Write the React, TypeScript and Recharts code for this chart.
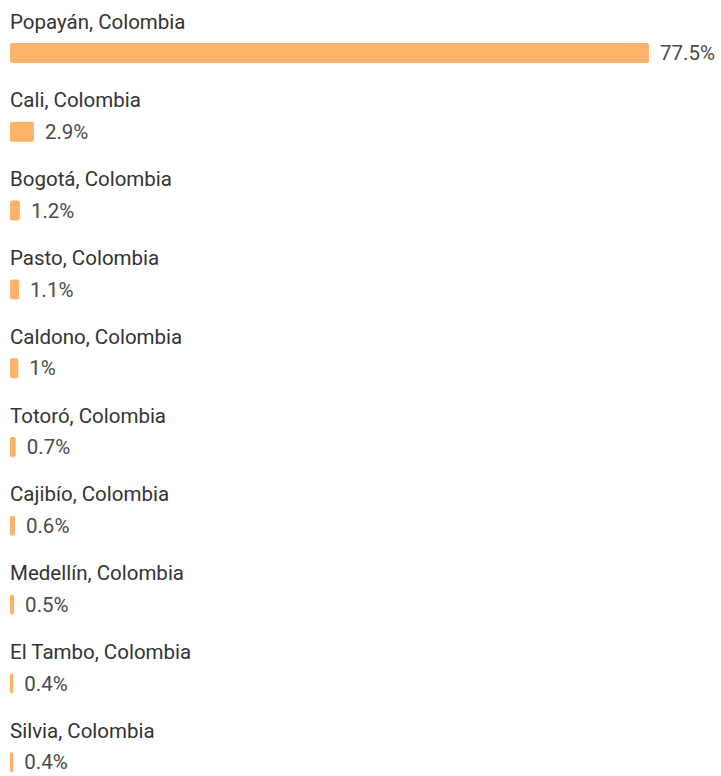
import React from 'react';
import { BarChart, Bar, XAxis, YAxis, LabelList } from 'recharts';

const cities = [
  'Popayán, Colombia',
  'Cali, Colombia',
  'Bogotá, Colombia',
  'Pasto, Colombia',
  'Caldono, Colombia',
  'Totoró, Colombia',
  'Cajibío, Colombia',
  'Medellín, Colombia',
  'El Tambo, Colombia',
  'Silvia, Colombia',
];
const shares = [77.5, 2.9, 1.2, 1.1, 1, 0.7, 0.6, 0.5, 0.4, 0.4];

const data = cities.map((name, i) => ({ name, value: shares[i] }));

const NameLabel = (props: any) => {
  const { x, y, value } = props;
  return (
    <text x={x} y={y - 14.5} fill="#333" fontSize={20.5} fontFamily="Roboto, sans-serif">
      {value}
    </text>
  );
};

export default function App() {
  return (
    <div style={{ position: 'absolute', left: 0, top: 0, width: 721, height: 776, overflow: 'hidden', background: '#fff' }}>
      <BarChart
        width={721}
        height={802}
        data={data}
        layout="vertical"
        margin={{ top: 14, right: 72, bottom: 0, left: 10 }}
      >
        <XAxis type="number" domain={[0, 77.5]} hide />
        <YAxis type="category" dataKey="name" hide />
        <Bar dataKey="value" fill="#FCB267" barSize={20} radius={2} isAnimationActive={false}>
          <LabelList dataKey="name" content={NameLabel} />
          <LabelList
            dataKey="value"
            position="right"
            offset={11}
            fill="#4a4a4a"
            fontSize={20.5}
            fontFamily="Roboto, sans-serif"
            formatter={(v: any) => `${v}%`}
          />
        </Bar>
      </BarChart>
    </div>
  );
}
